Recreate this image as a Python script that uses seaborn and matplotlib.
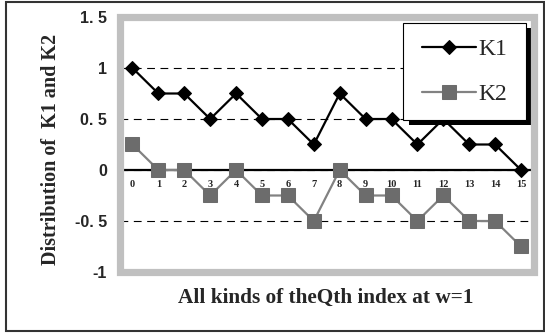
import matplotlib
matplotlib.use('Agg')
import matplotlib.pyplot as plt
import matplotlib.patches as mpatches
from matplotlib.ticker import MultipleLocator
import seaborn as sns
import pandas as pd

# values
q_index = list(range(16))
k1 = [1, 0.75, 0.75, 0.5, 0.75, 0.5, 0.5, 0.25, 0.75, 0.5, 0.5, 0.25, 0.5, 0.25, 0.25, 0]
k2 = [0.25, 0, 0, -0.25, 0, -0.25, -0.25, -0.5, 0, -0.25, -0.25, -0.5, -0.25, -0.5, -0.5, -0.75]
y_ticks = [-1, -0.5, 0, 0.5, 1, 1.5]
y_tick_labels = ['-1', '-0. 5', '0', '0. 5', '1', '1. 5']

df = pd.DataFrame({'Q': q_index, 'K1': k1, 'K2': k2})

sns.set_style('white')
plt.rcParams['font.family'] = ['Liberation Serif', 'DejaVu Sans']

W, H = 545, 335
fig = plt.figure(figsize=(W / 100, H / 100), dpi=100)
ax = fig.add_axes([119.5 / W, 1 - 272 / H, 414.5 / W, 255 / H])

# --- series ---
sns.lineplot(data=df, x='Q', y='K1', ax=ax, color='black', lw=1.6, marker='D',
             markersize=7, markerfacecolor='black', markeredgecolor='black',
             label='K1', zorder=3)
sns.lineplot(data=df, x='Q', y='K2', ax=ax, color='#828282', lw=1.6, marker='s',
             markersize=10.3, markerfacecolor='#6c6c6c', markeredgecolor='#6c6c6c',
             label='K2', zorder=2)

ax.set_xlim(-0.5, 15.5)
ax.set_ylim(-1, 1.5)
ax.set_xlabel('')
ax.set_ylabel('')

# --- axes styling ---
for s in ['left', 'right', 'top']:
    ax.spines[s].set_visible(False)
ax.spines['bottom'].set_position(('data', 0))
ax.spines['bottom'].set_color('black')
ax.spines['bottom'].set_linewidth(1.6)
ax.spines['bottom'].set_zorder(1.5)

ax.set_xticks(q_index)
ax.xaxis.set_minor_locator(MultipleLocator(1, offset=0.5))
ax.tick_params(axis='x', which='major', length=0, pad=7, labelsize=7.5)
ax.tick_params(axis='x', which='minor', length=4.5, width=1.2, direction='inout',
               color='black')
for lbl in ax.get_xticklabels():
    lbl.set_fontweight('bold')

ax.set_yticks(y_ticks, y_tick_labels)
ax.tick_params(axis='y', length=4.5, width=3, color='#c0c0c0', direction='in',
               pad=9, labelsize=11.5)
for lbl in ax.get_yticklabels():
    lbl.set_fontweight('bold')
    lbl.set_family(['Liberation Sans Narrow', 'Liberation Sans'])

ax.yaxis.grid(True, color='black', lw=0.8, linestyle=(0, (7, 5)))
ax.xaxis.grid(False)
ax.set_axisbelow(True)

# grey plot frame
ax.add_patch(mpatches.Rectangle((0, 0), 1, 1, transform=ax.transAxes, fill=False,
                                ec='#c0c0c0', lw=5.2, zorder=6, clip_on=False))

# legend box with hard black shadow
lx, ly, lw_, lh = 0.684, 0.596, 0.297, 0.38
ax.add_patch(mpatches.Rectangle((lx + 0.0145, ly - 0.02), lw_, lh, transform=ax.transAxes,
                                fc='black', ec='none', zorder=4))
ax.add_patch(mpatches.Rectangle((lx, ly), lw_, lh, transform=ax.transAxes,
                                fc='white', ec='black', lw=0.8, zorder=4.5))
ax.legend(loc='center', bbox_to_anchor=(lx + lw_ / 2, ly + lh / 2), frameon=False,
          prop={'family': 'Liberation Serif', 'size': 17}, handlelength=2.3,
          handletextpad=0.1, labelspacing=1.0)

# axis titles
fig.text(51 / W, 1 - 149 / H, 'Distribution of  K1 and K2', rotation=90,
         ha='center', va='center', fontsize=14.5, fontweight='bold')
fig.text(326 / W, 1 - 298 / H, 'All kinds of theQth index at w=1',
         ha='center', va='center', fontsize=15.3, fontweight='bold')

# outer border
fig.add_artist(mpatches.Rectangle((6 / W, 1 - 331 / H), 538 / W, 329 / H,
                                  transform=fig.transFigure, fill=False,
                                  ec='#333333', lw=1.5))

fig.savefig('out.png', dpi=100)
